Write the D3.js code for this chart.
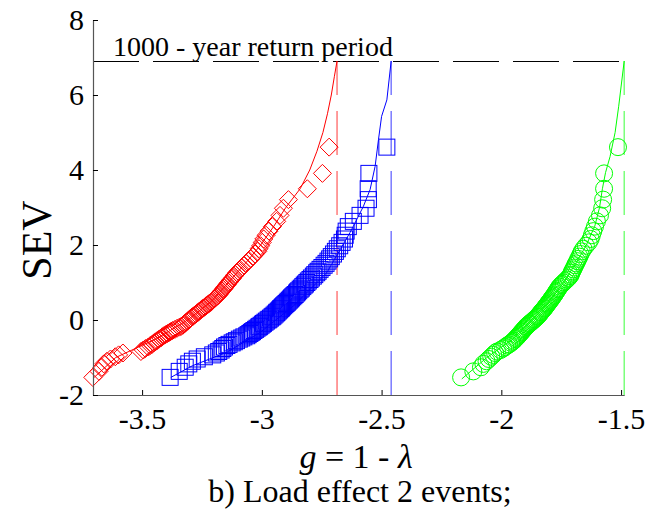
<!DOCTYPE html>
<html><head><meta charset="utf-8">
<script src="https://cdn.jsdelivr.net/npm/d3@7"></script>
<style>body{margin:0;background:#fff;} svg{display:block;} svg text{font-family:"Liberation Serif","Times New Roman",serif;}</style>
</head><body><svg id="chart" width="650" height="515"></svg>
<script>
// Standardised extreme variate (plotting positions), shared by the three samples
const sevY = [-1.53,-1.37,-1.26,-1.17,-1.10,-1.04,-0.98,-0.93,-0.88,-0.84,
  -0.80,-0.76,-0.72,-0.68,-0.65,-0.61,-0.58,-0.55,-0.51,-0.48,
  -0.45,-0.42,-0.39,-0.36,-0.33,-0.31,-0.28,-0.25,-0.22,-0.19,
  -0.17,-0.14,-0.11,-0.09,-0.06,-0.03,0.00,0.02,0.05,0.08,
  0.10,0.13,0.16,0.19,0.21,0.24,0.27,0.30,0.32,0.35,
  0.38,0.41,0.44,0.47,0.50,0.53,0.56,0.59,0.62,0.65,
  0.68,0.72,0.75,0.78,0.82,0.85,0.89,0.93,0.96,1.00,
  1.04,1.08,1.12,1.17,1.21,1.26,1.30,1.35,1.40,1.46,
  1.51,1.57,1.63,1.69,1.76,1.83,1.90,1.98,2.07,2.16,
  2.26,2.37,2.49,2.63,2.79,2.98,3.21,3.50,3.91,4.61];

const redX = [-3.706,-3.680,-3.668,-3.660,-3.647,-3.632,-3.612,-3.598,-3.580,-3.505,
  -3.495,-3.486,-3.474,-3.466,-3.458,-3.451,-3.444,-3.437,-3.429,-3.422,
  -3.416,-3.410,-3.402,-3.394,-3.386,-3.381,-3.373,-3.363,-3.354,-3.344,
  -3.337,-3.330,-3.325,-3.321,-3.316,-3.310,-3.305,-3.302,-3.297,-3.291,
  -3.287,-3.281,-3.275,-3.269,-3.265,-3.260,-3.254,-3.248,-3.244,-3.238,
  -3.232,-3.226,-3.220,-3.214,-3.209,-3.204,-3.199,-3.194,-3.189,-3.183,
  -3.179,-3.174,-3.170,-3.166,-3.161,-3.157,-3.152,-3.147,-3.143,-3.138,
  -3.133,-3.128,-3.122,-3.116,-3.111,-3.105,-3.099,-3.091,-3.083,-3.074,
  -3.066,-3.057,-3.047,-3.038,-3.028,-3.017,-3.012,-3.005,-2.998,-2.992,
  -2.982,-2.970,-2.956,-2.938,-2.924,-2.910,-2.889,-2.810,-2.747,-2.719];

const blueX = [-3.383,-3.345,-3.320,-3.305,-3.290,-3.270,-3.240,-3.205,-3.190,-3.180,
  -3.170,-3.163,-3.156,-3.146,-3.137,-3.124,-3.115,-3.106,-3.094,-3.084,
  -3.075,-3.063,-3.057,-3.050,-3.044,-3.039,-3.033,-3.026,-3.020,-3.013,
  -3.009,-3.003,-2.997,-2.993,-2.987,-2.981,-2.974,-2.970,-2.964,-2.958,
  -2.954,-2.949,-2.944,-2.939,-2.936,-2.931,-2.926,-2.922,-2.918,-2.914,
  -2.909,-2.904,-2.899,-2.894,-2.890,-2.885,-2.880,-2.876,-2.871,-2.866,
  -2.861,-2.855,-2.851,-2.846,-2.840,-2.835,-2.829,-2.823,-2.818,-2.812,
  -2.806,-2.799,-2.793,-2.785,-2.779,-2.771,-2.765,-2.757,-2.749,-2.740,
  -2.732,-2.724,-2.717,-2.710,-2.701,-2.693,-2.685,-2.675,-2.665,-2.655,
  -2.652,-2.648,-2.639,-2.618,-2.590,-2.565,-2.555,-2.556,-2.553,-2.478];

const greenX = [-2.168,-2.117,-2.085,-2.075,-2.062,-2.052,-2.042,-2.034,-2.026,-2.018,
  -2.003,-1.993,-1.984,-1.975,-1.968,-1.959,-1.954,-1.948,-1.942,-1.938,
  -1.933,-1.929,-1.925,-1.921,-1.917,-1.914,-1.910,-1.906,-1.902,-1.898,
  -1.895,-1.890,-1.885,-1.881,-1.875,-1.870,-1.865,-1.861,-1.856,-1.851,
  -1.848,-1.844,-1.840,-1.836,-1.834,-1.830,-1.826,-1.822,-1.819,-1.816,
  -1.812,-1.809,-1.805,-1.802,-1.798,-1.795,-1.791,-1.788,-1.785,-1.781,
  -1.778,-1.774,-1.771,-1.768,-1.764,-1.761,-1.757,-1.751,-1.746,-1.740,
  -1.733,-1.727,-1.720,-1.713,-1.710,-1.707,-1.704,-1.700,-1.696,-1.692,
  -1.688,-1.683,-1.679,-1.674,-1.669,-1.664,-1.657,-1.647,-1.635,-1.627,
  -1.622,-1.616,-1.609,-1.601,-1.588,-1.579,-1.575,-1.571,-1.571,-1.513];

// Fitted curves (SEV, g)
const redFitY  = [-1.53,-1.0,-0.5,0.0,0.5,1.0,1.5,2.0,2.5,3.0,3.5,4.0,4.5,5.0,5.5,6.0,6.5,6.907];
const redFitX  = [-3.700,-3.610,-3.440,-3.310,-3.210,-3.140,-3.070,-3.005,-2.950,-2.900,-2.840,-2.800,-2.770,-2.745,-2.726,-2.710,-2.697,-2.686];
const blueFitY = [-1.53,-1.22,-0.86,-0.33,0.375,1.26,2.33,2.5,3.03,3.48,4.1,4.81,5.43,5.87,6.907];
const blueFitX = [-3.380,-3.290,-3.146,-3.007,-2.868,-2.729,-2.632,-2.618,-2.576,-2.548,-2.527,-2.513,-2.500,-2.478,-2.460];
const greenFitY = [-1.57,-1.0,-0.5,0.0,0.5,1.0,1.5,2.0,2.5,3.0,3.5,3.93,4.36,5.0,5.7,6.907];
const greenFitX = [-2.165,-2.060,-1.950,-1.870,-1.800,-1.740,-1.690,-1.645,-1.610,-1.590,-1.578,-1.565,-1.546,-1.525,-1.510,-1.487];

const returnLevel = 6.907;             // 1000-year return period
const limitX = [-2.686, -2.460, -1.487]; // red, blue, green
const seriesColors = ["#ff0000", "#0000ff", "#00ff00"];
const xTicks = [-3.5, -3, -2.5, -2, -1.5];
const yTicks = [-2, 0, 2, 4, 6, 8];
const xDomain = [-3.705, -1.487];
const yDomain = [-2, 8];

const svg = d3.select("#chart");
const x = d3.scaleLinear().domain(xDomain).range([93, 624.2]);
const y = d3.scaleLinear().domain(yDomain).range([395, 20]);
const FONT = '"Liberation Serif","Times New Roman",serif';

// dashed reference lines
const yr = Math.round(y(returnLevel)) + 0.5;
svg.append("line")
  .attr("x1", x(xDomain[0])).attr("x2", x(xDomain[1]))
  .attr("y1", yr).attr("y2", yr)
  .attr("stroke", "#000").attr("stroke-width", 1)
  .attr("stroke-dasharray", "46,14");

limitX.forEach((lx, i) => {
  svg.append("line")
    .attr("x1", x(lx)).attr("x2", x(lx))
    .attr("y1", y(yDomain[0])).attr("y2", y(returnLevel))
    .attr("stroke", seriesColors[i]).attr("stroke-opacity", 0.6)
    .attr("stroke-width", 1.3)
    .attr("stroke-dasharray", "44,16");
});

// fitted lines
const line = d3.line().x(d => x(d[0])).y(d => y(d[1]));
const fits = [
  [redFitX, redFitY],
  [blueFitX, blueFitY],
  [greenFitX, greenFitY]
];
fits.forEach((f, i) => {
  const pts = f[0].map((v, k) => [v, f[1][k]]);
  svg.append("path").datum(pts).attr("d", line)
    .attr("fill", "none").attr("stroke", seriesColors[i]).attr("stroke-width", 1);
});

// markers
const red = redX.map((v, k) => [v, sevY[k]]);
const blue = blueX.map((v, k) => [v, sevY[k]]);
const green = greenX.map((v, k) => [v, sevY[k]]);

svg.append("g").selectAll("path").data(red).join("path")
  .attr("d", d => { const cx = x(d[0]), cy = y(d[1]), r = 9;
    return `M${cx},${cy - r}L${cx + r},${cy}L${cx},${cy + r}L${cx - r},${cy}Z`; })
  .attr("fill", "none").attr("stroke", seriesColors[0]).attr("stroke-width", 1);

svg.append("g").selectAll("rect").data(blue).join("rect")
  .attr("x", d => x(d[0]) - 8).attr("y", d => y(d[1]) - 8)
  .attr("width", 16).attr("height", 16)
  .attr("fill", "none").attr("stroke", seriesColors[1]).attr("stroke-width", 1);

svg.append("g").selectAll("circle").data(green).join("circle")
  .attr("cx", d => x(d[0])).attr("cy", d => y(d[1])).attr("r", 8.5)
  .attr("fill", "none").attr("stroke", seriesColors[2]).attr("stroke-width", 1);

// axes
const xAxis = svg.append("g").attr("transform", `translate(0,${y(yDomain[0])})`)
  .call(d3.axisBottom(x).tickValues(xTicks).tickFormat(d => String(d))
    .tickSizeInner(-5).tickSizeOuter(0).tickPadding(13));
const yAxis = svg.append("g").attr("transform", `translate(${x(xDomain[0])},0)`)
  .call(d3.axisLeft(y).tickValues(yTicks).tickFormat(d => String(d))
    .tickSizeInner(-5).tickSizeOuter(0).tickPadding(9));
[xAxis, yAxis].forEach(a => {
  a.attr("font-family", null);
  a.select(".domain").attr("stroke", "#555").attr("stroke-width", 1.2);
  a.selectAll(".tick line").attr("stroke", "#000");
  a.selectAll(".tick text").style("font-family", FONT).attr("font-size", 30).attr("fill", "#000");
});

// texts
svg.append("text").attr("x", 113).attr("y", 56)
  .style("font-family", FONT).attr("font-size", 28).attr("fill", "#000")
  .text("1000 - year return period");

svg.append("text").attr("transform", "translate(51,240) rotate(-90)")
  .attr("text-anchor", "middle")
  .style("font-family", FONT).attr("font-size", 42).attr("fill", "#000")
  .text("SEV");

const xl = svg.append("text").attr("x", 356).attr("y", 468)
  .attr("text-anchor", "middle")
  .style("font-family", FONT).attr("font-size", 34).attr("fill", "#000");
xl.append("tspan").attr("font-style", "italic").text("g");
xl.append("tspan").text(" = 1 - ");
xl.append("tspan").attr("font-style", "italic").text("λ");

svg.append("text").attr("x", 360).attr("y", 502)
  .attr("text-anchor", "middle")
  .style("font-family", FONT).attr("font-size", 32).attr("fill", "#000")
  .text("b) Load effect 2 events;");
</script></body></html>
